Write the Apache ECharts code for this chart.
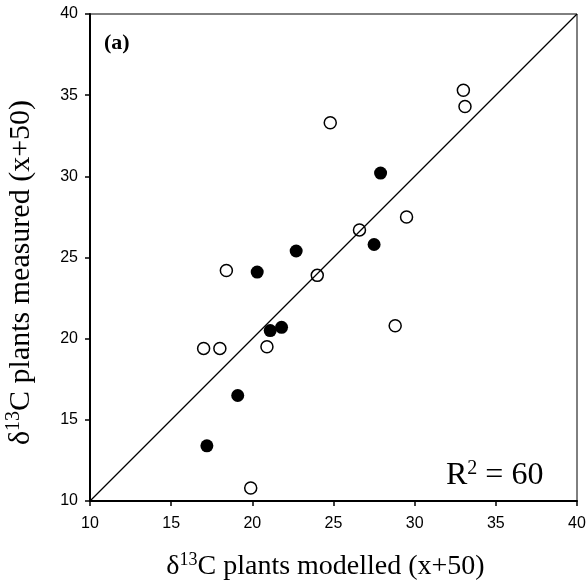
<!DOCTYPE html>
<html>
<head>
<meta charset="utf-8">
<script src="https://cdn.jsdelivr.net/npm/echarts@6/dist/echarts.min.js"></script>
<style>
  html, body { margin: 0; padding: 0; background: #fff; }
  #chart { width: 586px; height: 581px; }
</style>
</head>
<body>
<div id="chart"></div>
<script>
// open circles: [modelled, measured]
const openPoints = [
  [33.0, 35.3], [33.1, 34.3], [24.8, 33.3], [29.5, 27.5], [26.6, 26.7],
  [24.0, 23.9], [18.4, 24.2], [17.0, 19.4], [18.0, 19.4], [20.9, 19.5],
  [19.9, 10.8], [28.8, 20.8]
];
// filled circles
const filledPoints = [
  [27.9, 30.2], [27.5, 25.8], [22.7, 25.4], [20.3, 24.1],
  [21.1, 20.5], [21.8, 20.7], [19.1, 16.5], [17.2, 13.4]
];
// 1:1 line ends
const oneToOne = [[10, 10], [40, 40]];
const axisMin = 10, axisMax = 40, axisStep = 5;
const r2Text = '60';

const serif = '"Liberation Serif", "DejaVu Serif", serif';
const sans = '"Liberation Sans", Arial, sans-serif';

function nameRich(size) {
  return {
    d: { fontFamily: serif, fontSize: size, color: '#000', fontWeight: 'normal' },
    s: { fontFamily: serif, fontSize: Math.round(size * 0.65), color: '#000', fontWeight: 'normal',
         verticalAlign: 'top', padding: [0, 0, Math.round(size * 0.45), 0] }
  };
}

const chart = echarts.init(document.getElementById('chart'));
chart.setOption({
  animation: false,
  grid: {
    left: 90, right: 9, top: 14, bottom: 80,
    outerBoundsMode: 'none', containLabel: false,
    show: true, borderColor: '#000', borderWidth: 1
  },
  title: [
    {
      text: '(a)', left: 99, top: 27,
      textStyle: { fontFamily: serif, fontSize: 22, fontWeight: 'bold', color: '#000' }
    },
    {
      text: '{d|R}{s|2}{d| = ' + r2Text + '}', left: 441, top: 454,
      textStyle: {
        fontWeight: 'normal',
        rich: {
          d: { fontFamily: serif, fontSize: 32, color: '#000', fontWeight: 'normal' },
          s: { fontFamily: serif, fontSize: 20, color: '#000', fontWeight: 'normal',
               verticalAlign: 'top', padding: [0, 0, 14, 0] }
        }
      }
    }
  ],
  xAxis: {
    type: 'value', min: axisMin, max: axisMax, interval: axisStep,
    name: '{d|δ}{s|13}{d|C plants modelled (x+50)}',
    nameLocation: 'middle', nameGap: 50,
    nameTextStyle: { rich: nameRich(28), padding: [0, 16, 0, 0] },
    axisLine: { lineStyle: { color: '#000', width: 2 } },
    axisTick: { length: 5, lineStyle: { color: '#000', width: 1.5 } },
    axisLabel: { fontFamily: sans, fontSize: 16, color: '#000', margin: 15 },
    splitLine: { show: false }
  },
  yAxis: {
    type: 'value', min: axisMin, max: axisMax, interval: axisStep,
    name: '{d|δ}{s|13}{d|C plants measured (x+50)}',
    nameLocation: 'middle', nameGap: 52, nameRotate: 90,
    nameTextStyle: { rich: nameRich(30), padding: [0, 30, 0, 0] },
    axisLine: { lineStyle: { color: '#000', width: 2 } },
    axisTick: { length: 5, lineStyle: { color: '#000', width: 1.5 } },
    axisLabel: { fontFamily: sans, fontSize: 16, color: '#000', margin: 12 },
    splitLine: { show: false }
  },
  series: [
    {
      type: 'line', data: oneToOne, symbol: 'none',
      lineStyle: { color: '#000', width: 1.2 }, silent: true
    },
    {
      name: 'open', type: 'scatter', data: openPoints, symbolSize: 12,
      itemStyle: { color: '#fff', borderColor: '#000', borderWidth: 1.5, opacity: 1 }
    },
    {
      name: 'filled', type: 'scatter', data: filledPoints, symbolSize: 13,
      itemStyle: { color: '#000', opacity: 1 }
    }
  ]
});
</script>
</body>
</html>
